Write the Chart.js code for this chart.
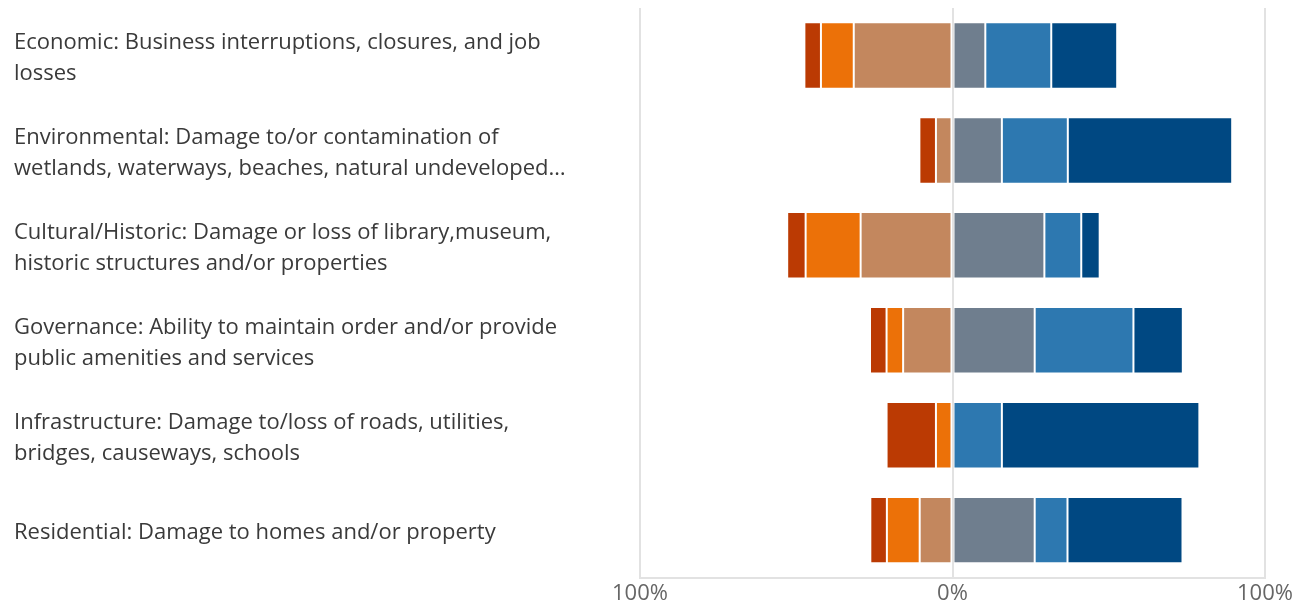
<!DOCTYPE html>
<html>
<head>
<meta charset="utf-8">
<script src="https://cdn.jsdelivr.net/npm/chart.js@4"></script>
<style>
    html, body { margin: 0; padding: 0; background: #fff; }
    #wrap { width: 1299px; height: 610px; }
</style>
</head>
<body>
<div id="wrap"><canvas id="chart"></canvas></div>
<script>
// Categories (wrapped labels)
const categories = [
    ['Economic: Business interruptions, closures, and job', 'losses'],
    ['Environmental: Damage to/or contamination of', 'wetlands, waterways, beaches, natural undeveloped…'],
    ['Cultural/Historic: Damage or loss of library,museum,', 'historic structures and/or properties'],
    ['Governance: Ability to maintain order and/or provide', 'public amenities and services'],
    ['Infrastructure: Damage to/loss of roads, utilities,', 'bridges, causeways, schools'],
    ['Residential: Damage to homes and/or property']
];

// Negative side (share of responses, %), nearest zero first
const somewhatDisagree = [-31.6, -5.3, -29.4, -15.8, 0, -10.5];
const disagree = [-10.5, 0, -17.6, -5.3, -5.3, -10.5];
const stronglyDisagree = [-5.3, -5.3, -5.9, -5.3, -15.8, -5.3];

// Positive side (%), nearest zero first
const somewhatAgree = [10.5, 15.8, 29.4, 26.3, 0, 26.3];
const agree = [21.1, 21.1, 11.8, 31.6, 15.8, 10.5];
const stronglyAgree = [21.1, 52.6, 5.9, 15.8, 63.2, 36.8];

// X axis ticks
const xTicks = [-100, 0, 100];

function makeSet(label, data, color) {
    return {
        label: label,
        data: data,
        backgroundColor: color,
        borderColor: 'rgba(255,255,255,0.15)',
        borderWidth: 1,
        borderSkipped: false,
        barPercentage: 0.7,
        categoryPercentage: 1
    };
}

new Chart(document.getElementById('chart'), {
    type: 'bar',
    data: {
        labels: categories,
        datasets: [
            makeSet('Somewhat disagree', somewhatDisagree, '#C3875E'),
            makeSet('Disagree', disagree, '#EC7108'),
            makeSet('Strongly disagree', stronglyDisagree, '#BB3A03'),
            makeSet('Somewhat agree', somewhatAgree, '#6F7E8E'),
            makeSet('Agree', agree, '#2D78B0'),
            makeSet('Strongly agree', stronglyAgree, '#004882')
        ]
    },
    options: {
        indexAxis: 'y',
        responsive: true,
        maintainAspectRatio: false,
        animation: false,
        layout: { padding: { left: 14, top: 8, right: 34, bottom: 0 } },
        plugins: {
            legend: { display: false },
            tooltip: { enabled: false }
        },
        scales: {
            x: {
                stacked: true,
                min: -100,
                max: 100,
                afterBuildTicks: axis => {
                    axis.ticks = xTicks.map(v => ({ value: v }));
                },
                afterFit: axis => { axis.paddingLeft = 0; axis.paddingRight = 0; },
                ticks: {
                    callback: v => Math.abs(v) + '%',
                    color: '#666',
                    padding: 3,
                    font: { family: 'Open Sans', size: 22 }
                },
                grid: { color: '#e2e2e2', lineWidth: 2, drawTicks: false, z: 1 },
                border: { display: true, color: '#e2e2e2', width: 2, z: 2 }
            },
            y: {
                stacked: true,
                afterFit: axis => {
                    axis.width = 626;
                    axis.paddingTop = 0;
                    axis.paddingBottom = 0;
                },
                grid: { display: false },
                border: { display: false },
                ticks: {
                    crossAlign: 'far',
                    labelOffset: 3,
                    color: '#3a3a3a',
                    font: { family: 'Open Sans', size: 22, lineHeight: 1.41 }
                }
            }
        }
    }
});
</script>
</body>
</html>
